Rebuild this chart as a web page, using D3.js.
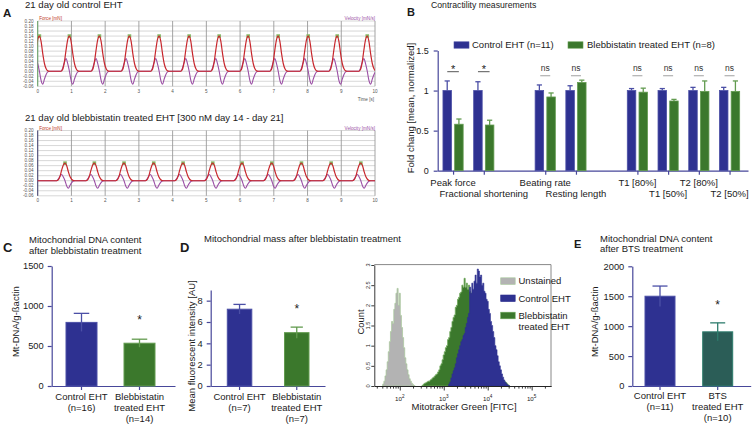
<!DOCTYPE html>
<html>
<head>
<meta charset="utf-8">
<script src="https://cdn.jsdelivr.net/npm/d3@7/dist/d3.min.js"></script>
<style>
html,body{margin:0;padding:0;background:#fff;}
svg{display:block;}
</style>
</head>
<body>
<svg id="fig" width="752" height="425"></svg>
<script>
// ---------------- Panel A data ----------------
const timeTicks = [0,1,2,3,4,5,6,7,8,9,10];
const forceTicks = [0.20,0.18,0.16,0.14,0.12,0.10,0.08,0.06,0.04,0.02,0.00,-0.02,-0.04,-0.06];
const controlPeakTimes = [0.05,0.94,1.83,2.72,3.60,4.49,5.38,6.24,7.13,8.02,8.88,9.77];
const blebPeakTimes = [0.81,1.68,2.56,3.44,4.31,5.19,6.06,6.94,7.82,8.70,9.58];
const beatOffsets = [-0.25,-0.20,-0.15,-0.10,-0.05,0,0.05,0.10,0.15,0.20,0.25,0.30];
const forceShape = [0,0.05,0.25,0.6,0.9,1.0,0.85,0.5,0.22,0.07,0.01,0];
const velocityShape = [0,0.25,0.7,1.0,0.6,0,-0.7,-1.0,-0.6,-0.25,-0.05,0];
const controlAmplitudes = [0.14, 0.05, 0.052];   // force peak, velocity up, velocity down
const blebAmplitudes = [0.07, 0.025, 0.03];

// ---------------- Panel B data ----------------
const contractCategories = ["Peak force","Fractional shortening","Beating rate","Resting length","T1 [80%]","T1 [50%]","T2 [80%]","T2  [50%]"];
const contractSlots = [0,1,3,4,6,7,8,9];
const contractControlMean = [1,1,1,1,1,1,1,1];
const contractControlSem = [0.12,0.11,0.07,0.06,0.025,0.025,0.04,0.04];
const contractBlebMean = [0.58,0.57,0.92,1.10,0.98,0.87,0.99,0.99];
const contractBlebSem = [0.065,0.06,0.05,0.03,0.05,0.02,0.13,0.13];
const contractSig = ["*","*","ns","ns","ns","ns","ns","ns"];
const contractTicks = [0,0.5,1,1.5];

// ---------------- Panel C data ----------------
const mtdnaBlebGroups = ["Control EHT","Blebbistatin treated EHT"];
const mtdnaBlebLabels = [["Control EHT","(n=16)"],["Blebbistatin","treated EHT","(n=14)"]];
const mtdnaBlebMean = [795, 535];
const mtdnaBlebSem = [113, 50];
const mtdnaBlebTicks = [0,500,1000,1500];

// ---------------- Panel D data ----------------
const mitoMassGroups = ["Control EHT","Blebbistatin treated EHT"];
const mitoMassLabels = [["Control EHT","(n=7)"],["Blebbistatin","treated EHT","(n=7)"]];
const mitoMassMean = [7.2, 5.0];
const mitoMassSem = [0.45, 0.52];
const mitoMassTicks = [0,2,4,6,8];

// histogram (log10 bin start, bin step 0.025 in log10 units)
const unstainedStart = 1.60;
const unstainedCounts = [0,0.05,0.12,0.25,0.4,0.6,0.85,1.1,1.35,1.6,1.55,1.9,2.05,2.3,2.42,2.0,2.3,1.75,1.45,1.2,0.95,0.7,0.55,0.4,0.28,0.18,0.12,0.07,0.04,0.01,0];
const blebHistStart = 2.50;
const blebHistCounts = [0,0.02,0.05,0.07,0.08,0.1,0.12,0.12,0.15,0.17,0.2,0.22,0.25,0.28,0.3,0.35,0.4,0.5,0.55,0.65,
  0.77,0.85,0.95,1.0,1.15,1.2,1.35,1.45,1.6,1.7,1.76,1.95,2.0,2.15,2.2,2.3,2.33,2.5,2.45,2.67,
  2.45,2.55,2.4,2.5,2.35,2.3,2.25,2.2,2.1,2.0,1.95,1.85,1.75,1.7,1.6,1.5,1.4,1.3,1.2,1.1,
  1.0,0.9,0.8,0.75,0.7,0.6,0.55,0.5,0.42,0.38,0.32,0.28,0.22,0.18,0.15,0.12,0.1,0.08,0.05,0.02,0];
const controlHistStart = 3.10;
const controlHistCounts = [0,0.05,0.1,0.2,0.3,0.38,0.45,0.55,0.7,0.8,0.9,1.0,1.1,1.15,1.25,1.3,1.45,1.55,1.7,1.8,
  2.45,2.3,2.55,2.4,2.6,2.75,2.55,2.9,2.85,2.7,2.75,2.5,2.55,2.35,2.3,2.15,2.1,1.9,1.8,1.6,
  1.5,1.35,1.2,1.0,0.9,0.75,0.6,0.5,0.4,0.3,0.22,0.15,0.1,0.06,0.03,0.01,0];
const histBinStep = 0.025;
const histYTicks = [0,0.5,1,1.5,2,2.5,3];
const histLegend = ["Unstained","Control EHT","Blebbistatin"];

// ---------------- Panel E data ----------------
const btsGroups = ["Control EHT","BTS treated EHT"];
const btsLabels = [["Control EHT","(n=11)"],["BTS","treated EHT","(n=10)"]];
const btsMean = [1500, 905];
const btsSem = [170, 150];
const btsTicks = [0,500,1000,1500,2000];

// ---------------- styles ----------------
const FF = "'Liberation Sans', Arial, Helvetica, sans-serif";
const BLUE = "#2e3191", BLUE_S = "#4b4fa6";
const GREEN = "#3b782c", GREEN_S = "#629b4f";
const TEAL = "#2b5d57", TEAL_S = "#2e7d6d";
const AXIS = "#47479a";
const TXT = "#1a1a1a";

const svg = d3.select("#fig").style("font-family", FF);

function addText(parent, x, y, str, size, opts = {}) {
  const t = parent.append("text").attr("x", x).attr("y", y)
    .attr("font-size", size).attr("fill", opts.fill || TXT).text(str);
  if (opts.anchor) t.attr("text-anchor", opts.anchor);
  if (opts.weight) t.attr("font-weight", opts.weight);
  if (opts.rotate) t.attr("transform", `rotate(-90,${x},${y})`);
  return t;
}
function styleAxis(sel, color, size, width) {
  sel.attr("font-family", FF);
  sel.select(".domain").attr("stroke", color).attr("stroke-width", width || 1.2);
  sel.selectAll(".tick line").attr("stroke", color).attr("stroke-width", width || 1.2);
  sel.selectAll(".tick text").attr("font-size", size).attr("fill", TXT);
}
function bandScale(domain, r0, r1, firstLeft, barW, step) {
  const n = domain.length, W = r1 - r0;
  const pi = 1 - barW / step;
  const po = (W / step - n + pi) / 2;
  const align = (firstLeft - r0) / (W - step * (n - pi));
  return d3.scaleBand().domain(domain).range([r0, r1]).paddingInner(pi).paddingOuter(po).align(align);
}

// ================= Panel A =================
function drawTrace(yTop, yBottom, peaks, amps, leftColor, idx) {
  const g = svg.append("g");
  const x = d3.scaleLinear().domain([0, 10]).range([37.7, 375]);
  const y = d3.scaleLinear().domain([-0.06, 0.20]).range([yBottom, yTop]);
  g.selectAll(".hg").data(forceTicks).join("line")
    .attr("x1", x(0)).attr("x2", x(10)).attr("y1", d => y(d)).attr("y2", d => y(d))
    .attr("stroke", "#c6c6c6").attr("stroke-width", 0.7);
  g.selectAll(".vg").data(timeTicks).join("line")
    .attr("x1", d => x(d)).attr("x2", d => x(d)).attr("y1", yTop).attr("y2", yBottom)
    .attr("stroke", "#9a9a9a").attr("stroke-width", 0.9);
  g.append("line").attr("x1", x(0)).attr("x2", x(0)).attr("y1", yTop).attr("y2", yBottom)
    .attr("stroke", leftColor).attr("stroke-width", 1);
  g.selectAll(".yl").data(forceTicks).join("text")
    .attr("x", 33.5).attr("y", d => y(d) + 1.6).attr("text-anchor", "end")
    .attr("font-size", 4.6).attr("fill", "#555").text(d => d.toFixed(2));
  g.selectAll(".xl").data(timeTicks).join("text")
    .attr("x", d => x(d)).attr("y", yBottom + 6.5).attr("text-anchor", "middle")
    .attr("font-size", 4.6).attr("fill", "#555").text(d => d);
  addText(g, x(0) + 1.5, yTop - 1, "Force [mN]", 4.6, { fill: "#c0392b" });
  addText(g, x(10), yTop - 1, "Velocity [mN/s]", 4.6, { fill: "#9b4fa5", anchor: "end" });

  const clipId = "clipA" + idx;
  g.append("clipPath").attr("id", clipId).append("rect")
    .attr("x", x(0)).attr("y", yTop).attr("width", x(10) - x(0)).attr("height", yBottom - yTop);
  const fPts = [[-0.6, 0]], vPts = [[-0.6, 0]];
  peaks.forEach(p => beatOffsets.forEach((o, i) => {
    fPts.push([p + o, amps[0] * forceShape[i]]);
    const v = velocityShape[i];
    vPts.push([p + o, v >= 0 ? amps[1] * v : amps[2] * v]);
  }));
  fPts.push([10.6, 0]); vPts.push([10.6, 0]);
  const line = d3.line().x(d => x(d[0])).y(d => y(d[1])).curve(d3.curveMonotoneX);
  const lg = g.append("g").attr("clip-path", `url(#${clipId})`);
  lg.selectAll(".pk").data(peaks).join("rect")
    .attr("x", d => x(d) - 1.8).attr("y", y(amps[0]) - 1.8).attr("width", 3.6).attr("height", 3.6)
    .attr("fill", "#86b866");
  lg.append("path").attr("d", line(vPts)).attr("fill", "none").attr("stroke", "#9b4fa5").attr("stroke-width", 1.1);
  lg.append("path").attr("d", line(fPts)).attr("fill", "none").attr("stroke", "#c8282e").attr("stroke-width", 1.2);
  return g;
}
addText(svg, 3, 16.7, "A", 11.5, { weight: "bold" });
addText(svg, 25, 8.3, "21 day old control EHT", 9.6);
drawTrace(21, 86.3, controlPeakTimes, controlAmplitudes, "#6aa86a", 1);
addText(svg, 374, 101, "Time [s]", 4.6, { fill: "#555", anchor: "end" });
addText(svg, 25, 120.7, "21 day old blebbistatin treated EHT [300 nM day 14 - day 21]", 9.6);
drawTrace(130.5, 195.8, blebPeakTimes, blebAmplitudes, "#4a4a7a", 2);

// ================= Panel B =================
(function () {
  const g = svg.append("g");
  addText(g, 407, 16, "B", 11, { weight: "bold" });
  addText(g, 431, 7.5, "Contractility measurements", 8.7);
  const x = d3.scaleLinear().domain([-0.5, 9.6]).range([437.7, 748]);
  const y = d3.scaleLinear().domain([0, 1.5]).range([170.7, 50.5]);
  const ya = g.append("g").attr("transform", "translate(437.7,0)")
    .call(d3.axisLeft(y).tickValues(contractTicks).tickFormat(d => d).tickSize(4).tickSizeOuter(0).tickPadding(5));
  styleAxis(ya, AXIS, 9);
  const xa = g.append("g").attr("transform", "translate(0,170.7)")
    .call(d3.axisBottom(x).tickValues(contractSlots).tickFormat("").tickSize(4).tickSizeOuter(0));
  styleAxis(xa, AXIS, 9);
  addText(g, 413.5, 108, "Fold chang [mean, normalized]", 9.5, { anchor: "middle", rotate: true });

  const bw = 8.5, gap = 1.6;
  const data = contractSlots.map((s, i) => ({ s, i }));
  const series = [
    { mean: contractControlMean, sem: contractControlSem, fill: BLUE, stroke: BLUE_S, off: -gap - bw },
    { mean: contractBlebMean, sem: contractBlebSem, fill: GREEN, stroke: GREEN_S, off: gap }
  ];
  series.forEach(se => {
    g.selectAll(null).data(data).join("line")
      .attr("x1", d => x(d.s) + se.off + bw / 2).attr("x2", d => x(d.s) + se.off + bw / 2)
      .attr("y1", d => y(se.mean[d.i])).attr("y2", d => y(se.mean[d.i] + se.sem[d.i]))
      .attr("stroke", se.stroke).attr("stroke-width", 1.3);
    g.selectAll(null).data(data).join("line")
      .attr("x1", d => x(d.s) + se.off + bw / 2 - 2.6).attr("x2", d => x(d.s) + se.off + bw / 2 + 2.6)
      .attr("y1", d => y(se.mean[d.i] + se.sem[d.i])).attr("y2", d => y(se.mean[d.i] + se.sem[d.i]))
      .attr("stroke", se.stroke).attr("stroke-width", 1.3);
    g.selectAll(null).data(data).join("rect")
      .attr("x", d => x(d.s) + se.off).attr("width", bw)
      .attr("y", d => y(se.mean[d.i])).attr("height", d => y(0) - y(se.mean[d.i]))
      .attr("fill", se.fill).attr("stroke", se.stroke).attr("stroke-width", 0.8);
  });
  data.forEach(d => {
    const cx = x(d.s);
    if (contractSig[d.i] === "*") {
      addText(g, cx, 72.8, "*", 11, { anchor: "middle", fill: "#222" });
      g.append("line").attr("x1", cx - 5.8).attr("x2", cx + 5.8).attr("y1", 71.7).attr("y2", 71.7)
        .attr("stroke", "#444").attr("stroke-width", 0.9);
    } else {
      addText(g, cx, 70.5, "ns", 8.5, { anchor: "middle", fill: "#333" });
      g.append("line").attr("x1", cx - 5).attr("x2", cx + 5).attr("y1", 75.7).attr("y2", 75.7)
        .attr("stroke", "#b0b0b0").attr("stroke-width", 1.2);
    }
  });
  data.forEach(d => {
    addText(g, x(d.s), d.i % 2 === 0 ? 186 : 197, contractCategories[d.i], 9.5, { anchor: "middle" });
  });
  g.append("rect").attr("x", 454).attr("y", 41.8).attr("width", 15).attr("height", 6.4).attr("fill", BLUE).attr("stroke", BLUE_S).attr("stroke-width", 0.6);
  addText(g, 472, 48, "Control EHT (n=11)", 9.5);
  g.append("rect").attr("x", 568).attr("y", 41.8).attr("width", 15).attr("height", 6.4).attr("fill", GREEN).attr("stroke", GREEN_S).attr("stroke-width", 0.6);
  addText(g, 587, 48, "Blebbistatin treated EHT (n=8)", 9.5);
})();

// ================= bar panels C, D, E =================
function barPanel(opt) {
  const g = svg.append("g");
  const x = bandScale(opt.groups, opt.x0, opt.x1, opt.firstLeft, opt.barW, opt.step);
  const y = d3.scaleLinear().domain(opt.yDomain).range([386, opt.yTopPx]);
  const ya = g.append("g").attr("transform", `translate(${opt.x0},0)`)
    .call(d3.axisLeft(y).tickValues(opt.ticks).tickFormat(d => d).tickSize(4).tickSizeOuter(0).tickPadding(4));
  styleAxis(ya, AXIS, 9.3);
  const xa = g.append("g").attr("transform", "translate(0,386)")
    .call(d3.axisBottom(x).tickFormat("").tickSize(4).tickSizeOuter(0));
  styleAxis(xa, AXIS, 9.3);
  opt.groups.forEach((k, i) => {
    const cx = x(k) + x.bandwidth() / 2;
    const m = opt.mean[i], s = opt.sem[i];
    const fill = opt.fills[i], stroke = opt.strokes[i];
    g.append("rect").attr("x", x(k)).attr("width", x.bandwidth())
      .attr("y", y(m)).attr("height", y(0) - y(m))
      .attr("fill", fill).attr("stroke", stroke).attr("stroke-width", 1);
    g.append("line").attr("x1", cx).attr("x2", cx).attr("y1", y(m - s)).attr("y2", y(m + s))
      .attr("stroke", stroke).attr("stroke-width", 1.3);
    g.append("line").attr("x1", cx - x.bandwidth() / 4).attr("x2", cx + x.bandwidth() / 4)
      .attr("y1", y(m + s)).attr("y2", y(m + s)).attr("stroke", stroke).attr("stroke-width", 1.3);
    opt.labels[i].forEach((ln, j) => addText(g, cx, opt.labelY[j], ln, 9.5, { anchor: "middle" }));
  });
  const k1 = opt.groups[1];
  addText(g, x(k1) + x.bandwidth() / 2, opt.starY, "*", 12, { anchor: "middle", fill: "#222" });
  addText(g, opt.yTitleX, opt.yTitleY, opt.yTitle, 9.5, { anchor: "middle", rotate: true });
  return g;
}

// C
addText(svg, 3, 252.3, "C", 13, { weight: "bold" });
addText(svg, 29, 243, "Mitochondrial DNA content", 9.5);
addText(svg, 29, 254, "after blebbistatin treatment", 9.5);
barPanel({
  groups: mtdnaBlebGroups, labels: mtdnaBlebLabels, mean: mtdnaBlebMean, sem: mtdnaBlebSem,
  ticks: mtdnaBlebTicks, yDomain: [0, 1500], yTopPx: 266,
  x0: 51.7, x1: 175, firstLeft: 66, barW: 31, step: 58,
  fills: [BLUE, GREEN], strokes: [BLUE_S, GREEN_S],
  labelY: [400, 411, 422], starY: 323.8,
  yTitle: "Mt-DNA/g-ßactin", yTitleX: 19, yTitleY: 321.7
});

// D
addText(svg, 180, 251.7, "D", 13, { weight: "bold" });
addText(svg, 204, 242, "Mitochondrial mass after blebbistatin treatment", 9.5);
barPanel({
  groups: mitoMassGroups, labels: mitoMassLabels, mean: mitoMassMean, sem: mitoMassSem,
  ticks: mitoMassTicks, yDomain: [0, 9], yTopPx: 290,
  x0: 210.7, x1: 325, firstLeft: 227.3, barW: 24.5, step: 57.2,
  fills: [BLUE, GREEN], strokes: [BLUE_S, GREEN_S],
  labelY: [400, 411, 422], starY: 312.5,
  yTitle: "Mean fluorescent intensity [AU]", yTitleX: 195, yTitleY: 346
});

// E
addText(svg, 574, 248.3, "E", 11, { weight: "bold" });
addText(svg, 600, 241.7, "Mitochondrial DNA content", 9.5);
addText(svg, 600, 252, "after BTS treatment", 9.5);
barPanel({
  groups: btsGroups, labels: btsLabels, mean: btsMean, sem: btsSem,
  ticks: btsTicks, yDomain: [0, 2000], yTopPx: 266.3,
  x0: 632.3, x1: 750.7, firstLeft: 645, barW: 30, step: 57.7,
  fills: [BLUE, TEAL], strokes: [BLUE_S, TEAL_S],
  labelY: [399, 410, 421], starY: 309,
  yTitle: "Mt-DNA/g-ßactin", yTitleX: 598.5, yTitleY: 321.7
});

// ================= histogram =================
(function () {
  const g = svg.append("g");
  const hx = d3.scaleLog().domain([Math.pow(10, 1.42), Math.pow(10, 5.44)]).range([374.3, 551]);
  const hy = d3.scaleLinear().domain([0, 3]).range([386, 265]);
  g.append("line").attr("x1", 374.3).attr("x2", 551).attr("y1", 264.6).attr("y2", 264.6).attr("stroke", "#888").attr("stroke-width", 1);
  g.append("line").attr("x1", 551).attr("x2", 551).attr("y1", 264.6).attr("y2", 386).attr("stroke", "#888").attr("stroke-width", 1);

  const area = d3.area().x(d => hx(d[0])).y0(hy(0)).y1(d => hy(d[1])).curve(d3.curveStep);
  const toPts = (start, counts) => counts.map((c, i) => [Math.pow(10, start + i * histBinStep), c]);
  g.append("path").attr("d", area(toPts(unstainedStart, unstainedCounts)))
    .attr("fill", "#b3b3b3").attr("stroke", "#a7c99a").attr("stroke-width", 0.7);
  g.append("path").attr("d", area(toPts(blebHistStart, blebHistCounts)))
    .attr("fill", GREEN).attr("stroke", "#6ea85a").attr("stroke-width", 0.8);
  g.append("path").attr("d", area(toPts(controlHistStart, controlHistCounts)))
    .attr("fill", BLUE).attr("stroke", BLUE).attr("stroke-width", 0.6);

  const all = hx.ticks();
  const major = all.filter(t => Math.abs(Math.log10(t) - Math.round(Math.log10(t))) < 1e-6);
  const minor = all.filter(t => !major.includes(t));
  const xa1 = g.append("g").attr("transform", "translate(0,386)")
    .call(d3.axisBottom(hx).tickValues(minor).tickFormat("").tickSize(2.6).tickSizeOuter(0));
  styleAxis(xa1, "#222", 6, 0.9);
  const xa2 = g.append("g").attr("transform", "translate(0,386)")
    .call(d3.axisBottom(hx).tickValues(major).tickFormat("").tickSize(4.5).tickSizeOuter(0));
  styleAxis(xa2, "#222", 6, 0.9);
  major.forEach(t => {
    const tx = g.append("text").attr("x", hx(t)).attr("y", 401).attr("text-anchor", "middle")
      .attr("font-size", 6.2).attr("fill", TXT);
    tx.append("tspan").text("10");
    tx.append("tspan").attr("dy", -2.6).attr("font-size", 4.6).text(Math.round(Math.log10(t)));
  });
  const ya = g.append("g").attr("transform", "translate(374.3,0)")
    .call(d3.axisLeft(hy).tickValues(histYTicks).tickFormat("").tickSize(3).tickSizeOuter(0));
  styleAxis(ya, "#222", 6, 0.9);
  histYTicks.forEach(v => addText(g, 370.3, hy(v), String(v), 5.6, { anchor: "middle", rotate: true }));
  addText(g, 363.5, 322, "Count", 9.4, { anchor: "middle", rotate: true });
  addText(g, 464, 410, "Mitotracker Green [FITC]", 9.5, { anchor: "middle" });

  const lg = [{ c: "#b3b3b3", s: "#a7c99a", y: 277.8 }, { c: BLUE, s: BLUE, y: 295 }, { c: GREEN, s: "#6ea85a", y: 312.2 }];
  lg.forEach((d, i) => {
    g.append("rect").attr("x", 500.7).attr("y", d.y).attr("width", 14.5).attr("height", 6.6)
      .attr("fill", d.c).attr("stroke", d.s).attr("stroke-width", 0.6);
    addText(g, 518.5, d.y + 6.6, histLegend[i], 9.5);
  });
  addText(g, 518.5, 330.2, "treated EHT", 9.5);
})();
</script>
</body>
</html>
